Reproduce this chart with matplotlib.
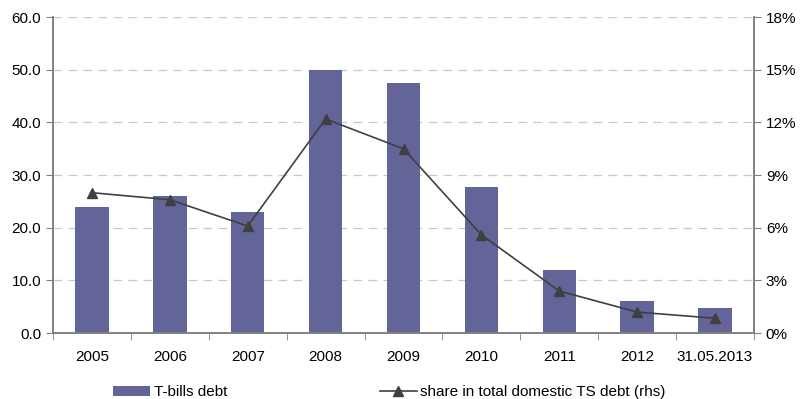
import numpy as np
import matplotlib.pyplot as plt

plt.rcParams['font.family'] = ['Liberation Sans', 'DejaVu Sans']

categories = ["2005", "2006", "2007", "2008", "2009", "2010", "2011", "2012", "31.05.2013"]
tbills_debt = [24.0, 26.0, 23.0, 50.0, 47.5, 27.7, 12.0, 6.1, 4.7]
share_pct = [8.0, 7.6, 6.1, 12.2, 10.5, 5.6, 2.4, 1.2, 0.85]

bar_color = "#636598"
line_color = "#404040"
axis_color = "#808080"

fig = plt.figure(figsize=(8.03, 3.99), dpi=100)
ax = fig.add_axes([0.066, 0.165, 0.873, 0.792])
ax2 = ax.twinx()

x = np.arange(len(categories))
ax.bar(x, tbills_debt, width=0.43, color=bar_color, label="T-bills debt", zorder=2)
ax2.plot(x, share_pct, color=line_color, lw=1.2, marker="^", markersize=7.5,
         label="share in total domestic TS debt (rhs)", zorder=3)

ax.set_xlim(-0.5, len(categories) - 0.5)
ax.set_ylim(0, 60)
ax2.set_ylim(0, 18)
ax.set_yticks(np.arange(0, 61, 10))
ax.set_yticklabels([f"{v:.1f}" for v in np.arange(0, 61, 10)])
ax2.set_yticks(np.arange(0, 19, 3))
ax2.set_yticklabels([f"{v}%" for v in range(0, 19, 3)])

ax.grid(axis="y", color="#c8c8c8", linestyle=(0, (7, 5)), lw=0.9, zorder=0)
ax.set_axisbelow(True)

# category labels centered, tick marks at category boundaries
ax.set_xticks(x)
ax.set_xticklabels(categories)
ax.set_xticks(np.arange(-0.5, len(categories), 1), minor=True)
ax.tick_params(axis="x", which="major", length=0, pad=12, labelsize=11)
ax.tick_params(axis="x", which="minor", length=5, direction="out", color=axis_color)
ax.tick_params(axis="y", length=5, color=axis_color, labelsize=11)
ax2.tick_params(axis="y", length=5, color=axis_color, labelsize=11)

for a in (ax, ax2):
    a.spines["top"].set_visible(False)
    for s in ("left", "right", "bottom"):
        a.spines[s].set_color(axis_color)
        a.spines[s].set_linewidth(1.2)

h1, l1 = ax.get_legend_handles_labels()
h2, l2 = ax2.get_legend_handles_labels()
fig.legend(h1 + h2, l1 + l2, loc="lower left", bbox_to_anchor=(0.124, -0.035),
           ncol=2, frameon=False, fontsize=11, columnspacing=10.0,
           handlelength=2.4, handletextpad=0.25)

plt.savefig("out.png", dpi=100)
plt.close()
